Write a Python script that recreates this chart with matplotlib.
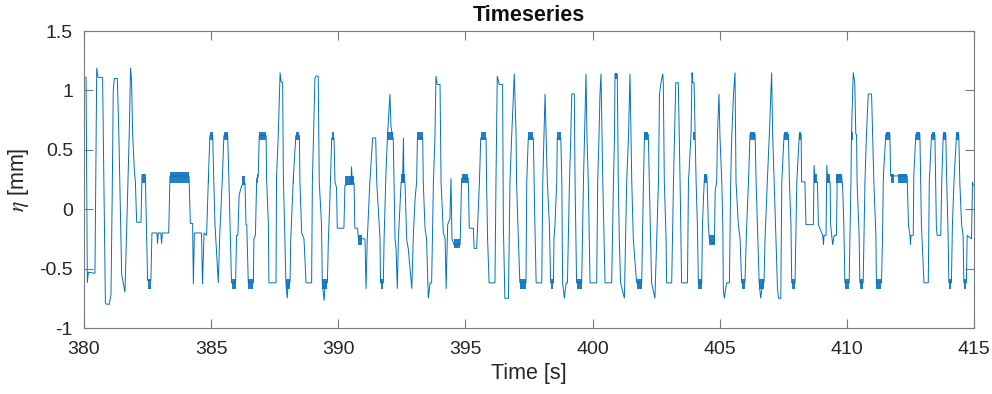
import matplotlib
matplotlib.use("Agg")
import matplotlib.pyplot as plt

# ---- data (time [s], eta [mm]) ----
time_s = [
    380.00, 380.08, 380.13, 380.17, 380.43, 380.50, 380.55, 380.73, 380.84, 380.89,
    380.99, 381.06, 381.11, 381.15, 381.19, 381.31, 381.37, 381.48, 381.54, 381.61,
    381.78, 381.83, 381.87, 381.91, 381.98, 382.02, 382.07, 382.24, 382.28, 382.41,
    382.50, 382.63, 382.67, 382.87, 382.89, 382.92, 383.02, 383.05, 383.08, 383.33,
    383.38, 384.13, 384.18, 384.27, 384.30, 384.34, 384.62, 384.66, 384.72, 384.82,
    384.89, 384.95, 385.06, 385.10, 385.15, 385.28, 385.34, 385.44, 385.50, 385.65,
    385.70, 385.80, 385.96, 386.00, 386.05, 386.10, 386.20, 386.33, 386.37, 386.40,
    386.46, 386.66, 386.68, 386.74, 386.79, 386.85, 386.89, 387.16, 387.18, 387.25,
    387.27, 387.55, 387.57, 387.64, 387.71, 387.75, 387.81, 387.84, 387.90, 387.94,
    387.99, 388.03, 388.10, 388.13, 388.23, 388.33, 388.47, 388.49, 388.56, 388.65,
    388.73, 388.95, 388.98, 389.08, 389.12, 389.21, 389.25, 389.34, 389.37, 389.44,
    389.49, 389.57, 389.61, 389.67, 389.74, 389.83, 389.87, 389.93, 389.96, 390.22,
    390.26, 390.50, 390.52, 390.55, 390.62, 390.65, 390.76, 390.79, 391.05, 391.09,
    391.14, 391.24, 391.35, 391.47, 391.51, 391.64, 391.66, 391.77, 391.80, 391.87,
    391.93, 392.03, 392.07, 392.14, 392.16, 392.19, 392.23, 392.27, 392.32, 392.36,
    392.47, 392.53, 392.56, 392.58, 392.62, 392.69, 392.75, 392.82, 392.89, 392.95,
    393.02, 393.08, 393.11, 393.32, 393.34, 393.41, 393.47, 393.54, 393.61, 393.67,
    393.74, 393.80, 393.84, 393.89, 394.00, 394.04, 394.13, 394.20, 394.24, 394.30,
    394.39, 394.43, 394.47, 394.55, 394.79, 394.85, 395.11, 395.15, 395.31, 395.34,
    395.44, 395.55, 395.60, 395.81, 395.83, 395.87, 395.93, 396.16, 396.20, 396.25,
    396.33, 396.46, 396.49, 396.55, 396.69, 396.75, 396.82, 396.92, 396.99, 397.01,
    397.08, 397.14, 397.38, 397.41, 397.47, 397.67, 397.70, 397.73, 397.78, 398.00,
    398.04, 398.13, 398.17, 398.22, 398.30, 398.35, 398.46, 398.48, 398.52, 398.59,
    398.61, 398.75, 398.79, 398.82, 398.89, 398.96, 399.01, 399.09, 399.14, 399.18,
    399.28, 399.31, 399.37, 399.57, 399.64, 399.68, 399.74, 399.78, 399.83, 399.90,
    400.16, 400.20, 400.25, 400.29, 400.33, 400.40, 400.49, 400.75, 400.82, 400.86,
    400.88, 400.97, 401.01, 401.05, 401.10, 401.25, 401.34, 401.41, 401.47, 401.54,
    401.60, 401.73, 401.93, 402.00, 402.04, 402.19, 402.23, 402.32, 402.45, 402.59,
    402.63, 402.69, 402.76, 402.78, 402.82, 402.89, 402.91, 403.11, 403.18, 403.27,
    403.37, 403.44, 403.50, 403.73, 403.77, 403.87, 403.91, 403.94, 403.99, 404.03,
    404.07, 404.12, 404.16, 404.29, 404.32, 404.36, 404.40, 404.49, 404.51, 404.55,
    404.59, 404.79, 404.82, 404.88, 404.91, 404.97, 405.01, 405.08, 405.12, 405.14,
    405.18, 405.27, 405.38, 405.43, 405.47, 405.54, 405.60, 405.64, 405.73, 405.80,
    405.86, 405.99, 406.06, 406.13, 406.19, 406.39, 406.43, 406.48, 406.55, 406.61,
    406.68, 406.74, 406.78, 406.87, 406.95, 407.04, 407.08, 407.14, 407.21, 407.27,
    407.31, 407.40, 407.44, 407.53, 407.70, 407.74, 407.80, 407.83, 407.96, 408.03,
    408.13, 408.20, 408.22, 408.35, 408.39, 408.68, 408.71, 408.75, 408.84, 408.88,
    409.05, 409.08, 409.10, 409.18, 409.21, 409.25, 409.34, 409.36, 409.44, 409.50,
    409.59, 409.62, 409.79, 409.83, 409.88, 409.92, 410.09, 410.12, 410.16, 410.18,
    410.25, 410.31, 410.35, 410.38, 410.40, 410.48, 410.51, 410.64, 410.71, 410.77,
    410.84, 410.97, 411.01, 411.06, 411.14, 411.16, 411.36, 411.40, 411.43, 411.45,
    411.53, 411.69, 411.72, 412.37, 412.42, 412.48, 412.50, 412.52, 412.61, 412.63,
    412.71, 412.87, 412.90, 412.93, 413.03, 413.20, 413.24, 413.33, 413.46, 413.49,
    413.52, 413.55, 413.69, 413.73, 413.79, 413.89, 413.92, 413.98, 414.01, 414.11,
    414.15, 414.21, 414.31, 414.40, 414.44, 414.51, 414.57, 414.60, 414.70, 414.73,
    414.90, 414.94, 414.97,
]
eta_mm = [
    1.11, 1.11, -0.62, -0.53, -0.54, 1.19, 1.11, 1.11, -0.79, -0.80,
    -0.80, -0.72, 0.15, 1.00, 1.10, 1.10, 0.63, -0.55, -0.62, -0.70,
    0.65, 1.19, 1.08, 0.65, 0.32, 0.23, -0.11, -0.11, 0.29, 0.29,
    -0.60, -0.60, -0.20, -0.20, -0.29, -0.20, -0.20, -0.29, -0.20, -0.20,
    0.28, 0.28, -0.12, -0.12, -0.63, -0.20, -0.20, -0.63, -0.20, -0.22,
    0.26, 0.62, 0.62, 0.26, -0.13, -0.62, -0.20, 0.26, 0.62, 0.62,
    0.23, -0.62, -0.62, -0.22, -0.22, 0.12, 0.20, 0.22, -0.13, -0.13,
    -0.62, -0.62, -0.25, -0.22, 0.26, 0.27, 0.62, 0.62, 0.26, -0.13,
    -0.62, -0.62, 0.26, 0.63, 1.15, 1.07, 1.07, 0.26, -0.25, -0.62,
    -0.75, -0.62, -0.62, -0.25, 0.26, 0.62, 0.62, 0.23, -0.20, -0.25,
    -0.62, -0.62, 0.23, 1.10, 1.12, 1.12, 0.23, -0.13, -0.62, -0.77,
    -0.62, -0.62, -0.25, 0.09, 0.60, 0.60, 0.23, 0.18, -0.16, -0.16,
    0.20, 0.22, 0.36, 0.22, 0.22, -0.16, -0.16, -0.25, -0.25, -0.67,
    -0.25, 0.23, 0.60, 0.60, 0.23, -0.25, -0.62, -0.62, -0.25, 0.28,
    0.60, 0.97, 0.70, 0.60, 0.60, 0.23, -0.25, -0.33, -0.67, -0.26,
    0.23, 0.25, 0.60, 0.25, 0.23, -0.26, -0.33, -0.50, -0.67, -0.22,
    0.09, 0.23, 0.60, 0.60, 0.23, -0.16, -0.25, -0.75, -0.62, -0.62,
    0.23, 0.60, 1.12, 1.05, 1.05, 0.23, -0.20, -0.25, -0.67, -0.13,
    -0.08, 0.26, -0.25, -0.30, -0.30, 0.26, 0.26, -0.16, -0.16, -0.33,
    -0.33, 0.23, 0.60, 0.60, 0.23, -0.25, -0.62, -0.62, 0.23, 1.12,
    1.05, 1.05, -0.13, -0.75, -0.75, 0.23, 0.63, 1.14, 0.63, 0.23,
    -0.25, -0.62, -0.62, 0.23, 0.60, 0.60, 0.23, -0.13, -0.62, -0.62,
    0.23, 0.97, 0.65, 0.23, -0.13, -0.62, -0.62, -0.25, -0.13, 0.23,
    0.60, 0.60, 0.23, -0.62, -0.75, -0.62, -0.62, 0.23, 0.60, 0.97,
    0.97, 0.23, -0.62, -0.62, 0.23, 0.60, 1.14, 0.60, 0.23, -0.62,
    -0.62, 0.23, 0.60, 0.97, 1.14, 0.23, -0.62, -0.62, 0.23, 0.60,
    1.14, 1.14, 0.23, -0.25, -0.62, -0.75, 0.23, 0.60, 1.14, 0.23,
    -0.25, -0.62, -0.62, 0.23, 0.63, 0.63, 0.23, -0.62, -0.75, 0.23,
    0.97, 1.065, 1.14, 1.065, 0.23, -0.25, -0.62, -0.62, 0.23, 1.065,
    1.065, 0.23, -0.62, -0.62, 0.23, 0.63, 1.15, 1.065, 1.065, 0.63,
    0.23, -0.13, -0.62, -0.62, -0.13, 0.09, 0.28, 0.28, 0.20, -0.13,
    -0.25, -0.30, 0.15, 0.23, 0.63, 0.97, 0.60, 0.23, -0.13, -0.67,
    -0.75, -0.62, -0.62, 0.23, 0.60, 0.97, 1.15, 0.23, -0.13, -0.25,
    -0.62, -0.62, -0.13, 0.23, 0.63, 0.63, 0.23, -0.13, -0.62, -0.75,
    -0.62, -0.62, -0.25, 0.23, 0.63, 1.15, 0.63, 0.23, -0.25, -0.67,
    -0.75, -0.75, 0.23, 0.63, 0.63, 0.23, -0.13, -0.62, -0.62, 0.23,
    0.63, 0.63, 0.23, 0.23, -0.13, -0.13, 0.37, 0.23, 0.23, -0.13,
    -0.22, -0.30, -0.22, -0.22, 0.37, 0.23, 0.23, -0.13, -0.30, -0.22,
    -0.22, 0.28, 0.28, 0.20, -0.13, -0.62, -0.62, -0.22, 0.23, 0.63,
    1.15, 1.065, 0.63, 0.63, 0.23, -0.22, -0.62, -0.62, 0.23, 0.63,
    0.97, 0.97, 0.63, 0.23, -0.22, -0.62, -0.62, -0.25, 0.23, 0.34,
    0.63, 0.63, 0.28, 0.28, -0.13, -0.22, -0.30, -0.22, -0.22, 0.28,
    0.63, 0.63, 0.23, -0.13, -0.62, -0.62, 0.23, 0.63, 0.63, 0.23,
    -0.16, -0.22, -0.22, 0.23, 0.63, 0.63, 0.28, -0.22, -0.62, -0.62,
    -0.13, 0.23, 0.63, 0.63, 0.23, -0.13, -0.22, -0.62, -0.62, -0.22,
    -0.25, 0.23, 0.20,
]

# ---- rapid quantisation chatter (dense toggling) between two levels ----
chatter_start = [382.28, 382.50, 383.38, 384.86, 384.95, 385.50, 385.80, 386.20, 386.46,
                 386.79, 386.89, 387.94, 388.20, 388.33, 389.37, 389.74, 390.26, 390.79,
                 391.66, 391.93, 392.47, 393.11, 394.55, 394.85, 395.60, 397.14, 397.47,
                 398.35, 398.61, 399.37, 400.88, 401.73, 402.04, 403.94, 404.16, 404.40,
                 404.59, 405.86, 406.19, 406.55, 407.53, 407.83, 408.13, 408.71, 409.21,
                 409.59, 409.92, 410.18, 410.51, 411.16, 411.53, 411.72, 412.02, 412.71,
                 413.33, 413.79, 414.01, 414.31, 414.60]
chatter_end = [382.41, 382.63, 384.13, 384.92, 385.06, 385.65, 385.96, 386.33, 386.66,
               386.85, 387.16, 388.10, 388.25, 388.47, 389.57, 389.83, 390.62, 390.92,
               391.77, 392.16, 392.62, 393.32, 394.79, 395.11, 395.81, 397.38, 397.64,
               398.46, 398.75, 399.57, 400.97, 401.93, 402.19, 404.03, 404.29, 404.49,
               404.79, 405.99, 406.39, 406.74, 407.70, 407.96, 408.20, 408.84, 409.34,
               409.79, 410.09, 410.25, 410.64, 411.36, 411.69, 411.85, 412.37, 412.87,
               413.46, 413.89, 414.11, 414.40, 414.70]
chatter_low = [0.22, -0.67, 0.22, 0.22, 0.58, 0.58, -0.67, 0.20, -0.67,
               0.22, 0.58, -0.67, 0.22, 0.58, -0.67, 0.58, 0.20, -0.30,
               -0.67, 0.58, 0.22, 0.58, -0.33, 0.22, 0.58, -0.67, 0.58,
               -0.67, 0.58, -0.67, 1.10, -0.67, 0.58, 0.58, -0.67, 0.22,
               -0.30, -0.67, 0.58, -0.67, 0.58, -0.67, 0.58, 0.22, 0.22,
               0.22, -0.67, 0.58, -0.67, -0.67, 0.58, 0.22, 0.22, 0.58,
               0.58, 0.58, -0.67, 0.58, -0.67]
chatter_high = [0.30, -0.59, 0.31, 0.30, 0.65, 0.65, -0.59, 0.28, -0.59,
                0.30, 0.65, -0.59, 0.30, 0.65, -0.59, 0.65, 0.28, -0.22,
                -0.59, 0.65, 0.30, 0.65, -0.25, 0.30, 0.65, -0.59, 0.65,
                -0.59, 0.65, -0.59, 1.15, -0.59, 0.65, 0.65, -0.59, 0.30,
                -0.22, -0.59, 0.65, -0.59, 0.65, -0.59, 0.65, 0.30, 0.30,
                0.30, -0.59, 0.65, -0.59, -0.59, 0.65, 0.30, 0.30, 0.65,
                0.65, 0.65, -0.59, 0.65, -0.59]

x_ticks = [380, 385, 390, 395, 400, 405, 410, 415]
y_ticks = [-1, -0.5, 0, 0.5, 1, 1.5]
y_tick_labels = ["-1", "-0.5", "0", "0.5", "1", "1.5"]

# ---- figure ----
plt.rcParams['font.family'] = ['Liberation Sans', 'DejaVu Sans']
plt.rcParams['mathtext.fontset'] = 'stix'

fig = plt.figure(figsize=(9.92, 3.94), dpi=100)
ax = fig.add_axes([0.0847, 0.1675, 0.8972, 0.7538])

line_color = '#0072BD'
ax.plot(time_s, eta_mm, color=line_color, lw=0.7, solid_joinstyle='miter')

widths = [e - s for s, e in zip(chatter_start, chatter_end)]
heights = [h - l for l, h in zip(chatter_low, chatter_high)]
ax.bar(chatter_start, heights, width=widths, bottom=chatter_low, align='edge',
       color='#0068BA', edgecolor='none', alpha=0.85)

ax.set_xlim(380, 415)
ax.set_ylim(-1, 1.5)
ax.set_xticks(x_ticks)
ax.set_yticks(y_ticks)
ax.set_yticklabels(y_tick_labels)

axis_gray = '#262626'
for s in ax.spines.values():
    s.set_color('#7a7a7a')
    s.set_linewidth(0.8)
ax.tick_params(axis='both', direction='in', length=6.5, width=0.8, color='#7a7a7a',
               labelcolor=axis_gray, labelsize=14, top=True, right=True)
ax.tick_params(axis='x', pad=9)
ax.tick_params(axis='y', pad=8)

ax.set_xlabel('Time [s]', fontsize=15.5, color=axis_gray, labelpad=4)
ax.set_ylabel(r'$\eta$ [mm]', fontsize=15.5, color=axis_gray, labelpad=6)
ax.set_title('Timeseries', fontsize=15.5, fontweight='bold', color='#111111', pad=7)

fig.savefig('out.png', dpi=100)
